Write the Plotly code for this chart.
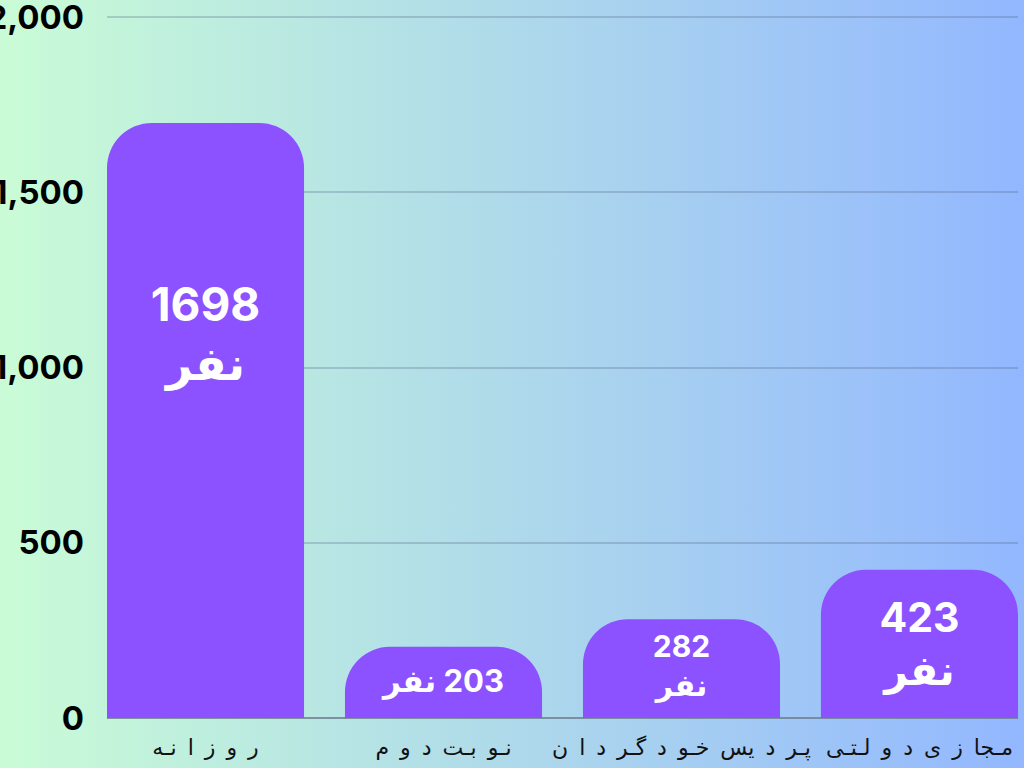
import base64
import plotly.graph_objects as go

SP = "\u2002"  # wide gap between the detached letters

# category labels (letter-spaced, as drawn in the reference)
categories = [
    SP.join(["ر", "و", "ز", "ا", "نـه"]),
    SP.join(["نـو", "بـت", "د", "و", "م"]),
    SP.join(["پـر", "د", "یس", "خـو", "د", "گـر", "د", "ا", "ن"]),
    SP.join(["مـجا", "ز", "ی", "د", "و", "لـتـی"]),
]
counts = [1698, 203, 282, 423]
bar_labels = ["1698<br>نفر", "\u200f203 نفر", "282<br>نفر", "423<br>نفر"]
y_ticks = [0, 500, 1000, 1500, 2000]

# styling
label_sizes = [46, 31, 30, 41]
label_frac = [0.637, 0.48, 0.5, 0.47]  # where the label sits inside each bar
bar_color = "#8c52ff"
W, H = 1024, 768
margin = dict(l=107, r=6, t=15, b=50)

# gradient background as an svg image
svg = (
    '<svg xmlns="http://www.w3.org/2000/svg" width="100" height="100" preserveAspectRatio="none">'
    '<defs><linearGradient id="g" x1="0" y1="0" x2="1" y2="0">'
    '<stop offset="0" stop-color="#c9fcd6"/><stop offset="1" stop-color="#93b7ff"/>'
    '</linearGradient></defs><rect width="100" height="100" fill="url(#g)"/></svg>'
)
bg_src = "data:image/svg+xml;base64," + base64.b64encode(svg.encode()).decode()

pw = W - margin["l"] - margin["r"]
ph = H - margin["t"] - margin["b"]

fig = go.Figure()
fig.add_trace(go.Bar(
    x=categories,
    y=counts,
    marker=dict(color=bar_color, cornerradius=45, line=dict(width=0)),
    width=0.828,
    hoverinfo="skip",
))
fig.add_trace(go.Scatter(
    x=categories,
    y=[c * f for c, f in zip(counts, label_frac)],
    text=bar_labels,
    mode="text",
    textposition="middle center",
    textfont=dict(family="Inter, 'DejaVu Sans'", size=label_sizes, color="white", weight="bold"),
    hoverinfo="skip",
))

fig.update_layout(
    width=W,
    height=H,
    margin=margin,
    showlegend=False,
    paper_bgcolor="rgba(0,0,0,0)",
    plot_bgcolor="rgba(0,0,0,0)",
    images=[dict(
        source=bg_src, xref="paper", yref="paper",
        x=-margin["l"] / pw, y=1 + margin["t"] / ph,
        sizex=W / pw, sizey=H / ph,
        xanchor="left", yanchor="top", sizing="stretch", layer="below",
    )],
)
fig.update_xaxes(
    range=[-0.414, 3.414],
    showgrid=False,
    showline=False,
    zeroline=False,
    ticks="",
    tickfont=dict(family="'DejaVu Sans'", size=22, color="#111111"),
    ticklabelstandoff=14,
)
fig.update_yaxes(
    range=[0, 2006],
    tickvals=y_ticks,
    tickformat=",d",
    showgrid=True,
    gridcolor="rgba(80,100,130,0.28)",
    gridwidth=1.5,
    zeroline=True,
    zerolinecolor="rgba(110,125,140,0.8)",
    zerolinewidth=1.5,
    showline=False,
    ticks="",
    tickfont=dict(family="Inter, 'DejaVu Sans'", size=33, color="#000000", weight="bold"),
    ticklabelstandoff=22,
    ticklabeloverflow="allow",
    automargin=False,
)

fig.write_html(
    "out.html",
    config={"displayModeBar": False},
    post_script="document.body.style.margin='0';",
)
